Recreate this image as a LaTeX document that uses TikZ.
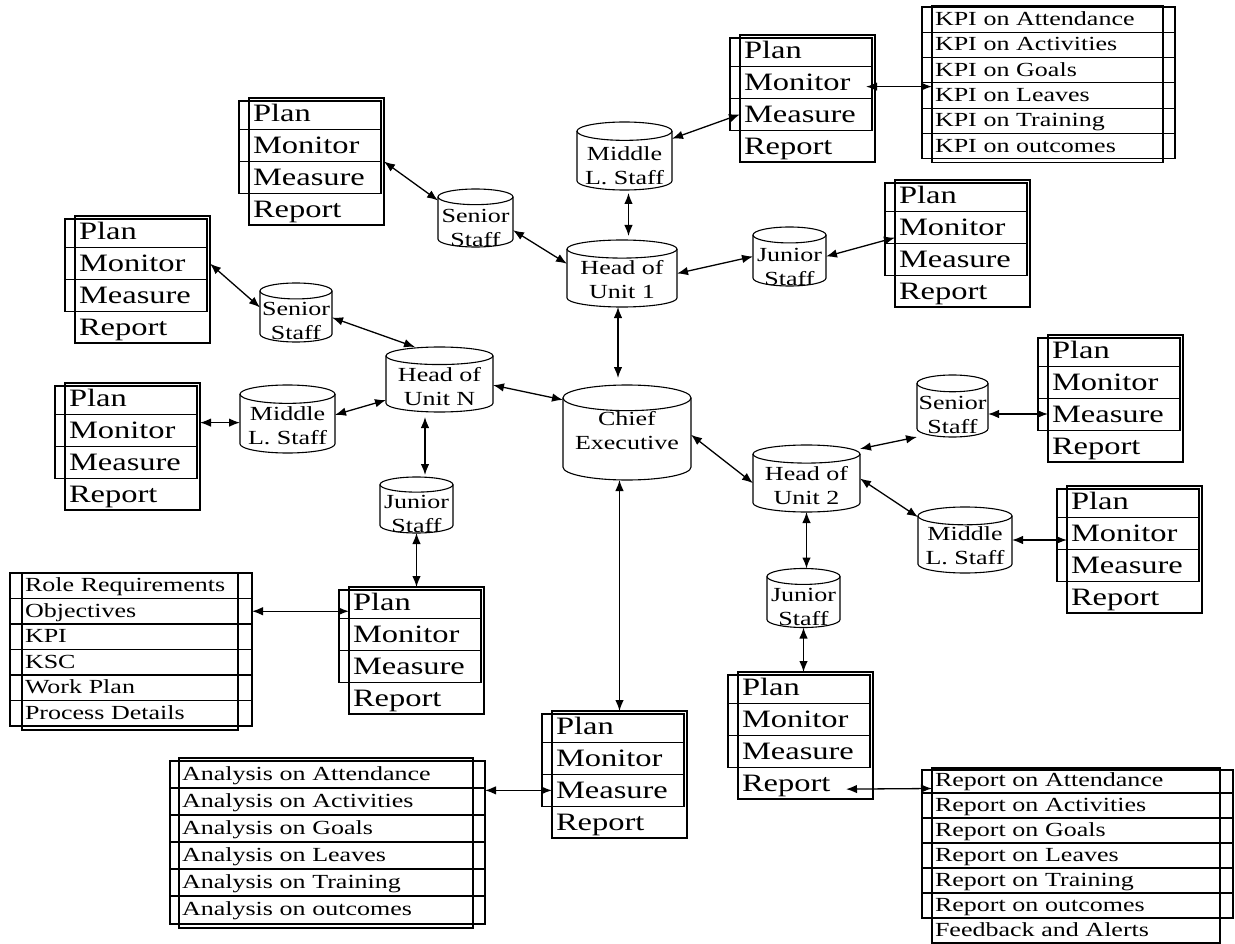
\documentclass[tikz,border=0pt]{standalone}
\usepackage{fontspec}
\setmainfont[FakeStretch=1.3]{Liberation Serif}
\usetikzlibrary{calc,positioning,arrows.meta}

% Plan/Monitor/Measure/Report box: name, left, top
\newcommand{\pmmr}[3]{%
  \node[pmmrrow, anchor=north west] (#1-1) at (#2,#3) {Plan};
  \node[pmmrrow, below=0pt of #1-1] (#1-2) {Monitor};
  \node[pmmrrow, below=0pt of #1-2] (#1-3) {Measure};
  \node[pmmrrow, below=0pt of #1-3] (#1-4) {Report};
  \draw[boxline] (#1-1.north west) rectangle (#1-4.south east);
  \draw[boxline] ($(#1-1.north west)+(-10,3)$) rectangle ($(#1-3.south east)+(-3,0)$);
  \draw[boxline] ($(#1-1.south west)+(-10,0)$) -- ($(#1-1.south east)+(-3,0)$);
  \draw[boxline] ($(#1-2.south west)+(-10,0)$) -- ($(#1-2.south east)+(-3,0)$);
}
% drum: [text shift] name, centre x, centre y, width, height, text
\newcommand{\drum}[7][8]{%
  \node[drumbody, minimum width=#5pt, minimum height=#6pt] (#2) at (#3,#4) {};
  \pgfmathsetmacro\drumry{0.135*#6}
  \pgfmathsetmacro\drumrx{#5/2}
  \draw[boxline] ($(#2.north west)+(0,\drumry)$) -- ($(#2.south west)+(0,-\drumry)$)
    arc[start angle=180, end angle=360, x radius=\drumrx pt, y radius=\drumry pt]
    -- ($(#2.north east)+(0,\drumry)$);
  \draw[boxline] ($(#2.north)+(0,\drumry)$) ellipse[x radius=\drumrx pt, y radius=\drumry pt];
  \node[drumtext] (#2-t) at ($(#2.center)+(0,#1)$) {#7};
}
% list of rows: name, left, top, width, row height, items
\newcommand{\itemlist}[6]{%
  \pgfmathsetmacro\listtw{#4-6}
  \foreach \txt [count=\k] in {#6}{
    \node[listrow, text width=\listtw pt, minimum height=#5pt, anchor=north west]
      (#1-\k) at (#2,{#3+(\k-1)*#5}) {\txt};
  }
}

\begin{document}
\begin{tikzpicture}[
x=1pt, y=-1pt,
boxline/.style={line width=1.1pt},
dbl/.style={<->, line width=1.3pt},
pmmrrow/.style={
  inner xsep=4pt, inner ysep=0pt, outer sep=0pt,
  text width=127pt, minimum height=31.75pt,
  text height=18pt, text depth=2pt, align=left,
  font=\fontsize{25}{30}\selectfont
  },
listrow/.style={
  inner xsep=3pt, inner ysep=0pt, outer sep=0pt,
  text height=15pt, text depth=3pt, align=left,
  font=\fontsize{20}{24}\selectfont
  },
drumbody/.style={inner sep=0pt, outer sep=0pt},
drumtext/.style={align=center, inner sep=0pt, font=\fontsize{20}{24}\selectfont},
>={Latex[length=11pt,width=8.5pt]}
]
\useasboundingbox (0,0) rectangle (1235,944);

% staff drums
\drum[-1.5]{ce}{627}{432.5}{128}{95}{Chief\\Executive}
\drum[6.5]{h1}{622}{273.5}{110}{67}{Head of\\Unit 1}
\drum[10]{su1}{475.5}{218}{75}{58}{Senior\\Staff}
\drum[10]{mu1}{624.5}{156}{95}{68}{Middle\\L. Staff}
\drum[10]{ju1}{789.5}{256.5}{73}{59}{Junior\\Staff}
\drum[7]{hn}{439.5}{379.5}{107}{65}{Head of\\Unit N}
\drum[8]{sn}{296}{312.5}{72}{59}{Senior\\Staff}
\drum[6.5]{mn}{287.5}{419}{95}{68}{Middle\\L. Staff}
\drum[8.5]{jn}{416.5}{505}{73}{56}{Junior\\Staff}
\drum[7]{h2}{806.5}{478.5}{107}{67}{Head of\\Unit 2}
\drum[9]{su2}{952.5}{406}{71}{62}{Senior\\Staff}
\drum[6]{mu2}{965}{540}{94}{66}{Middle\\L. Staff}
\drum[9]{ju2}{803.5}{598}{73}{59}{Junior\\Staff}

% plan boxes
\pmmr{b1}{249}{98}
\pmmr{b2}{740}{35}
\pmmr{b3}{895}{180}
\pmmr{b4}{75}{216}
\pmmr{b5}{65}{383}
\pmmr{b6}{349}{587}
\pmmr{b7}{552}{711}
\pmmr{b8}{1048}{335}
\pmmr{b9}{1067}{486}
\pmmr{b10}{738}{672}

% lists
\itemlist{kpi}{932}{7}{231}{25.3}{KPI on Attendance,KPI on Activities,KPI on Goals,KPI on Leaves,KPI on Training,KPI on outcomes}
\draw[boxline] ($(kpi-1.north west)+(-10,0)$) rectangle ($(kpi-6.south east)+(12,0)$);
\draw[boxline] ($(kpi-1.north west)+(0,-1)$) rectangle ($(kpi-6.south east)+(0,4)$);
\foreach \k in {1,...,5}
  \draw[boxline] ($(kpi-\k.south west)+(-10,0)$) -- ($(kpi-\k.south east)+(12,0)$);

\itemlist{role}{22}{573}{216}{25.5}{Role Requirements,Objectives,KPI,KSC,Work Plan,Process Details}
\draw[boxline] ($(role-1.north west)+(-12,0)$) rectangle ($(role-6.south east)+(14,0)$);
\draw[boxline] (role-1.north west) rectangle ($(role-6.south east)+(0,4)$);
\foreach \k in {1,...,5}
  \draw[boxline] ($(role-\k.south west)+(-12,0)$) -- ($(role-\k.south east)+(14,0)$);

\itemlist{ana}{179}{761}{294}{27}{Analysis on Attendance,Analysis on Activities,Analysis on Goals,Analysis on Leaves,Analysis on Training,Analysis on outcomes}
\draw[boxline] ($(ana-1.north west)+(-9,0)$) rectangle ($(ana-6.south east)+(12,1)$);
\draw[boxline] ($(ana-1.north west)+(0,-3)$) rectangle ($(ana-6.south east)+(0,5)$);
\foreach \k in {1,...,5}
  \draw[boxline] ($(ana-\k.south west)+(-9,0)$) -- ($(ana-\k.south east)+(12,0)$);

\itemlist{rep}{932}{768}{288}{25}{Report on Attendance,Report on Activities,Report on Goals,Report on Leaves,Report on Training,Report on outcomes,Feedback and Alerts}
\draw[boxline] ($(rep-1.north west)+(-10,2)$) rectangle ($(rep-6.south east)+(13,0)$);
\draw[boxline] (rep-1.north west) rectangle (rep-7.south east);
\foreach \k in {1,...,5}
  \draw[boxline] ($(rep-\k.south west)+(-10,0)$) -- ($(rep-\k.south east)+(13,0)$);

% unit 1
\draw[dbl] (b1-3.north east) -- (su1.155);
\draw[dbl] (su1.-18) -- (h1.170);
\draw[dbl] ([xshift=4pt,yshift=-3pt]mu1.south) -- ([xshift=6.5pt,yshift=4pt]h1.north);
\draw[dbl] (mu1.20) -- (b2-3.west);
\draw[dbl] ([xshift=-9pt,yshift=-4pt]b2-2.east) -- ([yshift=-4pt]b2-2.east -| kpi-1.west);
\draw[dbl] (h1.east) -- (ju1.west);
\draw[dbl] (ju1.east) -- ([yshift=-10pt]b3-2.west);
\draw[dbl] ([xshift=-4pt]h1.south) -- ([xshift=-4pt,yshift=7pt]h1.south |- ce.north);
% unit N
\draw[dbl] (b4-2.east) -- (sn.172);
\draw[dbl] (sn.-8) -- (hn.127);
\draw[dbl] ([yshift=8pt]b5-2.east) -- ([yshift=8pt]b5-2.east -| mn.west);
\draw[dbl] (mn.5) -- (hn.201);
\draw[dbl] ([xshift=-14.5pt,yshift=-5pt]hn.south) -- ([xshift=8.5pt,yshift=2pt]jn.north);
\draw[dbl] (jn.south) -- (jn.south |- b6-1.north);
\draw[dbl] ($(role-2.east)+(14,0)$) -- (role-2.east -| b6-1.west);
\draw[dbl] (hn.-6) -- (ce.153);
% chief
\draw[dbl] (b7-1.north) -- (b7-1.north |- ce.south);
\draw[dbl] (b7-3.west) -- ($(b7-3.west -| ana-1.east)+(12,0)$);
% unit 2
\draw[dbl] (ce.-2) -- (h2.185);
\draw[dbl] (h2.29) -- (su2.south west);
\draw[dbl] ([yshift=-8pt]su2.east) -- ([yshift=-8pt]su2.east -| b8-3.west);
\draw[dbl] (h2.east) -- (mu2.154);
\draw[dbl] (mu2.east) -- (mu2.east -| b9-2.west);
\draw[dbl] (h2.south) -- (h2.south |- ju2.north);
\draw[dbl] (ju2.south) -- (ju2.south |- b10-1.north);
\draw[dbl] ($(b10-4.east)+(-27,6)$) -- ($(rep-1.west)+(0,8)$);
\end{tikzpicture}
\end{document}
